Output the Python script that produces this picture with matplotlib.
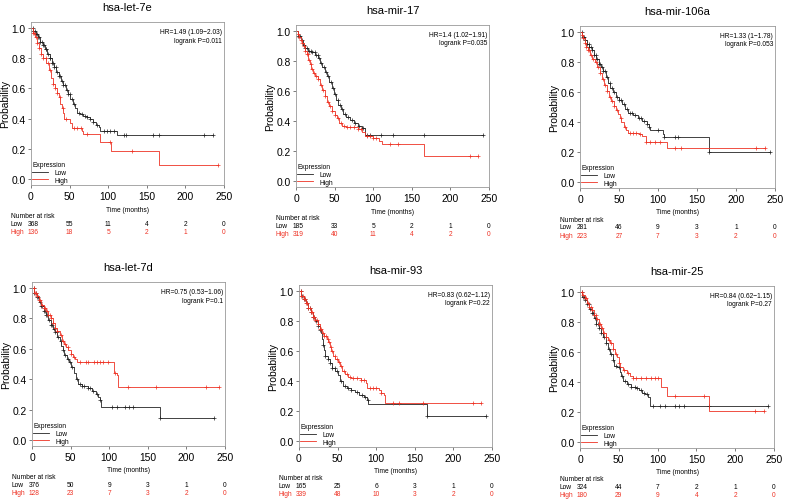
import numpy as np
import matplotlib
matplotlib.use("Agg")
import matplotlib.pyplot as plt
import matplotlib.transforms as mtransforms

plt.rcParams['font.family'] = ['Liberation Sans', 'DejaVu Sans']

RED = '#ee3224'
BLACK = '#222222'

risk_ticks = [0, 50, 100, 150, 200, 250]

# ---- hsa-let-7e
let7e_low_t = [0, 3, 6, 9, 12, 15, 18, 21, 24, 27, 30, 33, 36, 39, 42, 45, 48, 51, 54, 57, 60, 63, 67, 72, 76, 80, 84, 88, 90, 112, 236]
let7e_low_s = [1, .98, .96, .94, .91, .89, .86, .83, .80, .77, .74, .71, .68, .65, .62, .59, .565, .53, .50, .47, .44, .43, .42, .41, .40, .38, .36, .345, .32, .29, .29]
let7e_low_cens = [2, 3, 5, 6, 8, 9, 11, 12, 14, 15, 17, 19, 20, 22, 24, 25, 27, 29, 30, 32, 34, 36, 38, 40, 42, 44, 46, 48, 50, 53, 56, 62, 66, 70, 73, 76, 80, 86, 94, 98, 102, 108, 120, 123, 158, 166, 224, 236]
let7e_high_t = [0, 2, 5, 8, 10, 13, 16, 20, 23, 26, 28, 31, 34, 36, 38, 40, 42, 43, 50, 53, 66, 68, 89, 104, 166, 242]
let7e_high_s = [1, .97, .94, .90, .87, .83, .80, .77, .72, .67, .63, .60, .57, .54, .50, .47, .44, .40, .37, .34, .32, .30, .245, .185, .095, .095]
let7e_high_cens = [2, 4, 6, 8, 11, 13, 16, 19, 22, 25, 28, 31, 34, 37, 41, 45, 56, 60, 65, 72, 102, 131, 242]
let7e_risk_low = [368, 55, 11, 4, 2, 0]
let7e_risk_high = [136, 18, 5, 2, 1, 0]

# ---- hsa-mir-17
mir17_low_t = [0, 3, 6, 9, 12, 16, 20, 25, 29, 31, 34, 37, 40, 43, 46, 49, 52, 55, 58, 61, 65, 70, 75, 80, 86, 89, 242]
mir17_low_s = [1, .97, .94, .91, .89, .87, .86, .84, .82, .79, .76, .73, .70, .66, .62, .58, .54, .51, .48, .45, .43, .41, .39, .37, .355, .305, .305]
mir17_low_cens = [3, 5, 8, 10, 12, 14, 17, 19, 21, 24, 26, 28, 30, 33, 36, 39, 42, 45, 48, 51, 54, 57, 60, 64, 68, 72, 76, 82, 87, 92, 96, 110, 125, 166, 242]
mir17_high_t = [0, 2, 4, 6, 8, 10, 12, 14, 16, 18, 20, 22, 25, 28, 31, 34, 37, 40, 43, 46, 50, 53, 56, 59, 65, 80, 85, 90, 100, 107, 112, 166, 236]
mir17_high_s = [1, .98, .96, .94, .92, .90, .87, .845, .81, .78, .75, .72, .70, .68, .64, .61, .57, .53, .50, .47, .44, .42, .39, .37, .36, .35, .33, .30, .29, .27, .245, .165, .165]
mir17_high_cens = [2, 4, 6, 8, 10, 12, 14, 15, 17, 19, 21, 23, 26, 29, 32, 35, 38, 41, 44, 47, 51, 54, 58, 62, 66, 70, 75, 80, 84, 92, 96, 100, 103, 122, 132, 225, 236]
mir17_risk_low = [185, 33, 5, 2, 1, 0]
mir17_risk_high = [319, 40, 11, 4, 2, 0]

# ---- hsa-mir-106a
mir106a_low_t = [0, 3, 6, 9, 12, 15, 18, 21, 24, 27, 30, 33, 36, 39, 42, 46, 50, 54, 58, 62, 68, 74, 80, 86, 88, 90, 106, 108, 166, 243]
mir106a_low_s = [1, .97, .95, .92, .90, .88, .85, .82, .79, .77, .74, .70, .66, .63, .60, .57, .545, .52, .49, .46, .45, .43, .41, .39, .37, .345, .32, .30, .20, .20]
mir106a_low_cens = [2, 4, 5, 7, 9, 11, 12, 14, 16, 18, 20, 22, 24, 26, 28, 30, 32, 35, 38, 41, 44, 47, 50, 53, 56, 60, 64, 67, 71, 75, 78, 82, 86, 89, 100, 108, 122, 125, 166, 243]
mir106a_high_t = [0, 2, 4, 6, 8, 10, 13, 16, 19, 22, 25, 28, 31, 34, 37, 40, 43, 46, 49, 51, 53, 56, 59, 62, 75, 80, 84, 112, 237]
mir106a_high_s = [1, .98, .96, .93, .90, .88, .85, .82, .80, .77, .73, .69, .65, .61, .57, .54, .51, .48, .455, .43, .40, .37, .35, .33, .32, .31, .27, .225, .225]
mir106a_high_cens = [2, 4, 6, 8, 10, 12, 14, 17, 20, 23, 26, 29, 32, 35, 38, 41, 44, 48, 52, 58, 64, 68, 72, 77, 85, 90, 96, 102, 122, 130, 225, 237]
mir106a_risk_low = [281, 46, 9, 3, 1, 0]
mir106a_risk_high = [223, 27, 7, 3, 2, 0]

# ---- hsa-let-7d
let7d_low_t = [0, 3, 6, 9, 12, 15, 18, 21, 24, 27, 30, 33, 36, 38, 40, 42, 45, 48, 51, 54, 57, 60, 65, 72, 78, 83, 86, 88, 90, 166, 236]
let7d_low_s = [1, .97, .94, .91, .88, .85, .82, .79, .76, .73, .71, .68, .65, .62, .59, .56, .53, .51, .48, .44, .40, .37, .355, .34, .32, .30, .28, .26, .22, .145, .145]
let7d_low_cens = [2, 3, 5, 7, 8, 10, 12, 13, 15, 17, 18, 20, 22, 24, 26, 28, 30, 32, 34, 37, 40, 43, 46, 49, 52, 58, 62, 65, 68, 72, 75, 79, 84, 88, 103, 110, 120, 125, 131, 166, 236]
let7d_high_t = [0, 3, 6, 9, 12, 15, 18, 21, 24, 27, 30, 33, 36, 39, 41, 44, 47, 50, 53, 56, 58, 106, 110, 112, 242]
let7d_high_s = [1, .97, .95, .92, .89, .87, .85, .82, .80, .77, .74, .72, .69, .65, .63, .61, .59, .565, .545, .53, .515, .44, .43, .35, .35]
let7d_high_cens = [2, 4, 5, 7, 9, 11, 13, 15, 17, 19, 21, 23, 25, 27, 30, 33, 37, 40, 43, 46, 50, 55, 62, 70, 72, 80, 84, 88, 92, 98, 108, 124, 160, 225, 242]
let7d_risk_low = [376, 50, 9, 3, 1, 0]
let7d_risk_high = [128, 23, 7, 3, 2, 0]

# ---- hsa-mir-93
mir93_low_t = [0, 3, 6, 9, 12, 15, 18, 21, 24, 27, 29, 30, 31, 32, 34, 37, 40, 43, 47, 51, 53, 57, 62, 68, 73, 78, 84, 88, 90, 166, 242]
mir93_low_s = [1, .97, .95, .92, .89, .86, .83, .80, .77, .74, .72, .68, .64, .61, .57, .55, .52, .49, .47, .44, .40, .37, .355, .34, .33, .31, .295, .275, .25, .17, .17]
mir93_low_cens = [2, 4, 6, 8, 10, 12, 14, 16, 18, 20, 22, 24, 27, 31, 34, 37, 40, 43, 46, 49, 55, 60, 64, 68, 75, 82, 86, 89, 166, 242]
mir93_high_t = [0, 3, 6, 9, 12, 15, 18, 21, 24, 27, 30, 33, 36, 38, 40, 42, 44, 47, 50, 53, 56, 60, 64, 68, 80, 87, 88, 104, 106, 110, 112, 236]
mir93_high_s = [1, .97, .95, .92, .89, .86, .83, .81, .78, .75, .72, .70, .68, .66, .63, .60, .57, .55, .53, .50, .47, .45, .43, .42, .41, .39, .355, .34, .32, .305, .255, .255]
mir93_high_cens = [2, 3, 5, 6, 8, 9, 11, 12, 14, 15, 17, 18, 20, 21, 23, 25, 27, 29, 31, 33, 35, 37, 39, 41, 43, 46, 49, 52, 55, 58, 62, 66, 70, 75, 80, 84, 92, 96, 100, 106, 122, 130, 160, 225, 236]
mir93_risk_low = [165, 25, 6, 3, 1, 0]
mir93_risk_high = [339, 48, 10, 3, 2, 0]

# ---- hsa-mir-25
mir25_low_t = [0, 3, 6, 9, 12, 15, 18, 21, 24, 27, 30, 33, 36, 39, 42, 44, 48, 51, 53, 56, 60, 66, 72, 76, 80, 84, 88, 90, 242]
mir25_low_s = [1, .97, .95, .92, .89, .86, .83, .79, .76, .73, .70, .66, .62, .59, .55, .51, .50, .47, .44, .41, .385, .37, .36, .35, .33, .32, .30, .24, .24]
mir25_low_cens = [2, 4, 5, 7, 9, 11, 13, 15, 17, 19, 21, 23, 25, 27, 29, 31, 34, 37, 40, 43, 46, 50, 54, 58, 62, 66, 71, 74, 78, 82, 86, 94, 103, 110, 123, 128, 134, 166, 242]
mir25_high_t = [0, 3, 6, 9, 12, 15, 18, 21, 24, 27, 30, 33, 36, 39, 42, 45, 48, 50, 52, 55, 60, 64, 68, 105, 112, 166, 237]
mir25_high_s = [1, .98, .96, .93, .90, .88, .85, .82, .79, .76, .73, .70, .68, .66, .62, .59, .57, .53, .50, .48, .46, .44, .425, .37, .31, .205, .205]
mir25_high_cens = [2, 4, 6, 8, 10, 12, 14, 16, 18, 20, 22, 24, 26, 28, 31, 34, 37, 40, 43, 47, 50, 57, 62, 68, 72, 78, 85, 92, 97, 100, 122, 160, 225, 237]
mir25_risk_low = [324, 44, 7, 2, 1, 0]
mir25_risk_high = [180, 29, 9, 4, 2, 0]

titles = ['hsa-let-7e', 'hsa-mir-17', 'hsa-mir-106a', 'hsa-let-7d', 'hsa-mir-93', 'hsa-mir-25']
hr_texts = ['HR=1.49 (1.09\u22122.03)', 'HR=1.4 (1.02\u22121.91)', 'HR=1.33 (1\u22121.78)',
            'HR=0.75 (0.53\u22121.06)', 'HR=0.83 (0.62\u22121.12)', 'HR=0.84 (0.62\u22121.15)']
p_texts = ['logrank P=0.011', 'logrank P=0.035', 'logrank P=0.053',
           'logrank P=0.1', 'logrank P=0.22', 'logrank P=0.27']

curves = [
    (let7e_low_t, let7e_low_s, let7e_low_cens, let7e_high_t, let7e_high_s, let7e_high_cens, let7e_risk_low, let7e_risk_high),
    (mir17_low_t, mir17_low_s, mir17_low_cens, mir17_high_t, mir17_high_s, mir17_high_cens, mir17_risk_low, mir17_risk_high),
    (mir106a_low_t, mir106a_low_s, mir106a_low_cens, mir106a_high_t, mir106a_high_s, mir106a_high_cens, mir106a_risk_low, mir106a_risk_high),
    (let7d_low_t, let7d_low_s, let7d_low_cens, let7d_high_t, let7d_high_s, let7d_high_cens, let7d_risk_low, let7d_risk_high),
    (mir93_low_t, mir93_low_s, mir93_low_cens, mir93_high_t, mir93_high_s, mir93_high_cens, mir93_risk_low, mir93_risk_high),
    (mir25_low_t, mir25_low_s, mir25_low_cens, mir25_high_t, mir25_high_s, mir25_high_cens, mir25_risk_low, mir25_risk_high),
]

# axes boxes in pixels: left, top, right, bottom
boxes = [(31, 23, 224, 186), (296, 26, 489, 188), (580, 27, 775, 189),
         (32, 283, 225, 447), (299, 286, 492, 448), (580, 287, 774, 449)]

W, H = 787, 502
fig = plt.figure(figsize=(W / 100, H / 100), dpi=100)
SMALL = 4.8


def km(ax, t, s, cens, color, label):
    t = np.asarray(t, float)
    s = np.asarray(s, float)
    ax.step(t, s, where='post', color=color, lw=0.6, label=label)
    c = np.asarray(cens, float)
    idx = np.searchsorted(t, c, side='right') - 1
    ax.plot(c, s[idx], ls='none', marker='+', ms=3.4, mew=0.5, color=color)


for i, (l, tp, r, b) in enumerate(boxes):
    ax = fig.add_axes([l / W, 1 - b / H, (r - l) / W, (b - tp) / H])
    lt, ls, lc, ht, hs, hc, rl, rh = curves[i]
    km(ax, lt, ls, lc, BLACK, 'Low')
    km(ax, ht, hs, hc, RED, 'High')
    ax.set_xlim(0, 250)
    ax.set_ylim(-0.04, 1.04)
    ax.set_xticks(risk_ticks)
    ax.set_yticks([0, 0.2, 0.4, 0.6, 0.8, 1.0])
    ax.set_yticklabels(['0.0', '0.2', '0.4', '0.6', '0.8', '1.0'])
    ax.tick_params(labelsize=7.4, length=2.5, width=0.6, pad=1.5, color='#666666')
    for sp in ax.spines.values():
        sp.set_color('#999999')
        sp.set_linewidth(0.6)
    ax.set_ylabel('Probability', fontsize=7.4, labelpad=0.5)
    ax.text(0.5, 1.09, titles[i], transform=ax.transAxes, ha='center', va='center', fontsize=8)
    ax.text(0.99, 0.944, hr_texts[i], transform=ax.transAxes, ha='right', va='center', fontsize=SMALL)
    ax.text(0.99, 0.889, p_texts[i], transform=ax.transAxes, ha='right', va='center', fontsize=SMALL)
    ax.legend(loc='lower left', bbox_to_anchor=(0.0, 0.0), frameon=False, title='Expression',
              fontsize=SMALL, title_fontsize=SMALL, alignment='left', handlelength=2.4,
              handletextpad=0.9, labelspacing=0.1, borderpad=0.2, borderaxespad=0)

    trans = mtransforms.blended_transform_factory(ax.transData, ax.transAxes)
    hpx = b - tp
    ax.text(125, -24 / hpx, 'Time (months)', transform=trans, ha='center', va='center', fontsize=SMALL)
    ax.text(-26, -31 / hpx, 'Number at risk', transform=trans, ha='left', va='center', fontsize=SMALL)
    ax.text(-26, -38.5 / hpx, 'Low', transform=trans, ha='left', va='center', fontsize=SMALL, color='black')
    ax.text(-26, -47 / hpx, 'High', transform=trans, ha='left', va='center', fontsize=SMALL, color=RED)
    for x, nl, nh in zip(risk_ticks, rl, rh):
        xx = x + 3 if x == 0 else x
        ax.text(xx, -38.5 / hpx, str(nl), transform=trans, ha='center', va='center', fontsize=SMALL, color='black')
        ax.text(xx, -47 / hpx, str(nh), transform=trans, ha='center', va='center', fontsize=SMALL, color=RED)

fig.savefig('out.png', dpi=100)
